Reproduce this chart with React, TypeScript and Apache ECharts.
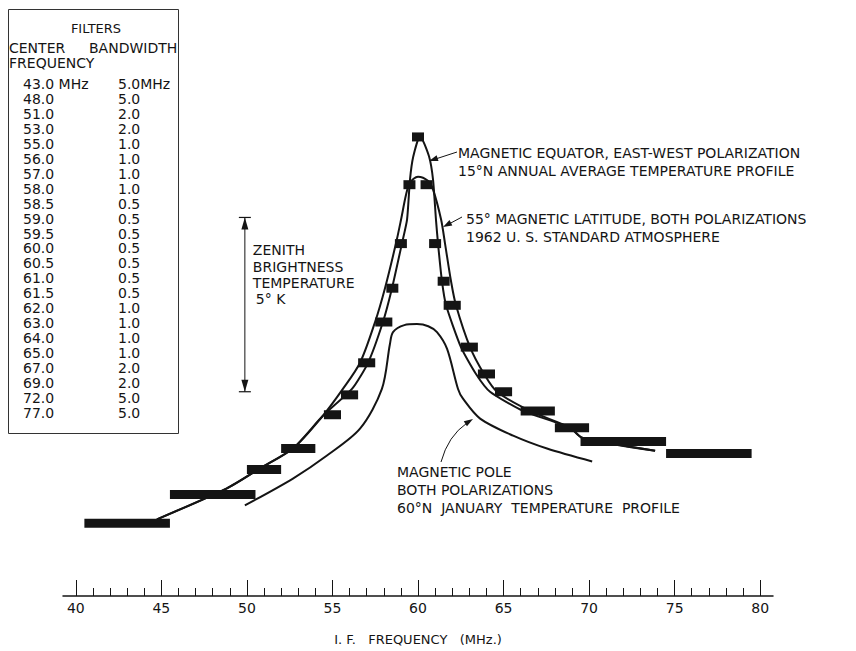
import React, { useEffect, useRef } from "react";
import * as echarts from "echarts";

// Filters (center frequency MHz, bandwidth MHz) and measured brightness (relative K)
const filterCenters = [43.0, 48.0, 51.0, 53.0, 55.0, 56.0, 57.0, 58.0, 58.5, 59.0, 59.5, 60.0, 60.5, 61.0, 61.5, 62.0, 63.0, 64.0, 65.0, 67.0, 69.0, 72.0, 77.0];
const filterBandwidths = [5, 5, 2, 2, 1, 1, 1, 1, 0.5, 0.5, 0.5, 0.5, 0.5, 0.5, 0.5, 1, 1, 1, 1, 2, 2, 5, 5];
const measuredTemps = [2.09, 2.91, 3.63, 4.23, 5.2, 5.77, 6.69, 7.86, 8.83, 10.11, 11.8, 13.17, 11.8, 10.11, 9.03, 8.34, 7.14, 6.37, 5.86, 5.31, 4.83, 4.43, 4.09];

// Theoretical curves
const equatorFreq = [44.74, 48.83, 50.76, 52.69, 54.44, 56.14, 57.08, 57.95, 58.48, 59.06, 59.36, 59.53, 59.72, 60.12, 60.65, 60.88, 61.05, 61.17, 61.4, 61.64, 62.51, 63.39, 64.21, 66.14, 68.89, 69.59, 73.86];
const equatorTemp = [2.2, 3.09, 3.66, 4.23, 5.17, 5.94, 6.69, 7.86, 8.83, 10.11, 10.8, 11.94, 12.6, 13.2, 12.6, 11.94, 10.8, 10.11, 9.03, 8.34, 7.14, 6.37, 5.86, 5.31, 4.83, 4.54, 4.17];

const midLatFreq = [44.74, 48.83, 50.76, 52.69, 54.44, 55.61, 56.61, 57.49, 58.07, 58.71, 59.01, 59.3, 59.53, 60.0, 60.58, 60.88, 61.35, 61.58, 61.93, 62.22, 63.04, 63.86, 64.62, 66.55, 68.89, 69.59, 73.86];
const midLatTemp = [2.2, 3.09, 3.66, 4.23, 5.17, 5.94, 6.69, 7.86, 8.83, 10.11, 10.8, 11.51, 11.86, 12.03, 11.91, 11.66, 10.8, 10.11, 9.03, 8.34, 7.14, 6.37, 5.86, 5.31, 4.83, 4.54, 4.17];

const poleFreq = [49.88, 52.69, 54.68, 56.61, 57.89, 58.36, 58.54, 59.2, 59.94, 60.6, 61.11, 61.7, 62.34, 62.63, 63.63, 65.56, 67.54, 70.18];
const poleTemp = [2.6, 3.37, 4.03, 4.8, 5.94, 7.23, 7.57, 7.77, 7.8, 7.74, 7.57, 7.09, 5.94, 5.66, 5.09, 4.6, 4.23, 3.86];

// Axis ticks
const majorTicks = [40, 45, 50, 55, 60, 65, 70, 75, 80];
const minorTicks = [41, 42, 43, 44, 46, 47, 48, 49, 51, 52, 53, 54, 56, 57, 58, 59, 61, 62, 63, 64, 66, 67, 68, 69, 71, 72, 73, 74, 76, 77, 78, 79];

// Zenith brightness temperature scale bar (5 K)
const scaleFreq = 49.88;
const scaleLowK = 5.86;
const scaleSpanK = 5;

const FONT = '"DejaVu Sans", sans-serif';
const INK = "#141414";

function arrowHead(tx: number, ty: number, dx: number, dy: number, len = 9, half = 3) {
  const l = Math.hypot(dx, dy);
  const ux = dx / l;
  const uy = dy / l;
  const bx = tx - ux * len;
  const by = ty - uy * len;
  return [
    [tx, ty],
    [bx - uy * half, by + ux * half],
    [bx + uy * half, by - ux * half],
  ];
}

function txt(text: string, x: number, y: number, size = 14, align = "left") {
  return {
    type: "text",
    x,
    y,
    z: 10,
    style: {
      text,
      fontSize: size,
      fontFamily: FONT,
      fill: INK,
      align,
      verticalAlign: "middle",
    },
  };
}

export default function App() {
  const ref = useRef<HTMLDivElement>(null);

  useEffect(() => {
    if (!ref.current) return;
    const chart = echarts.init(ref.current, undefined, { renderer: "svg" });

    const lineSeries = (name: string, fx: number[], ty: number[], smooth: number) => ({
      name,
      type: "line",
      data: fx.map((f, i) => [f, ty[i]]),
      showSymbol: false,
      smooth,
      lineStyle: { color: INK, width: 2 },
      z: 2,
      silent: true,
    });

    const option: any = {
      animation: false,
      backgroundColor: "#ffffff",
      grid: { left: 63, right: 83, top: 108, bottom: 53, containLabel: false },
      xAxis: [
        {
          type: "value",
          min: 39.25,
          max: 80.75,
          position: "bottom",
          axisLine: { show: true, lineStyle: { color: INK, width: 1.5 } },
          axisTick: { show: true, inside: true, length: 16, customValues: majorTicks, lineStyle: { color: INK, width: 1 } },
          axisLabel: { show: true, customValues: majorTicks, color: INK, fontSize: 14, fontFamily: FONT, margin: 5 },
          splitLine: { show: false },
          name: "I. F.   FREQUENCY   (MHz.)",
          nameLocation: "middle",
          nameGap: 37,
          nameTextStyle: { color: INK, fontSize: 13, fontFamily: FONT },
        },
        {
          type: "value",
          min: 39.25,
          max: 80.75,
          position: "bottom",
          axisLine: { show: false },
          axisTick: { show: true, inside: true, length: 8, customValues: minorTicks, lineStyle: { color: INK, width: 1 } },
          axisLabel: { show: false },
          splitLine: { show: false },
        },
      ],
      yAxis: { type: "value", min: 0, max: 14, show: false },
      series: [
        lineSeries("Magnetic equator", equatorFreq, equatorTemp, 0.2),
        lineSeries("55° magnetic latitude", midLatFreq, midLatTemp, 0.3),
        lineSeries("Magnetic pole", poleFreq, poleTemp, 0.3),
        {
          name: "Filters",
          type: "custom",
          z: 5,
          silent: true,
          data: filterCenters.map((c, i) => [c, filterBandwidths[i], measuredTemps[i]]),
          encode: { x: 0, y: 2 },
          renderItem: (_params: any, api: any) => {
            const c = api.value(0);
            const bw = api.value(1);
            const t = api.value(2);
            const p0 = api.coord([c - bw / 2, t]);
            const p1 = api.coord([c + bw / 2, t]);
            let x = p0[0];
            let w = p1[0] - p0[0];
            if (w < 12) {
              x = (p0[0] + p1[0]) / 2 - 6;
              w = 12;
            }
            return {
              type: "rect",
              shape: { x, y: p0[1] - 4.5, width: w, height: 9 },
              style: { fill: INK },
            };
          },
        },
      ],
    };

    chart.setOption(option);

    const top = chart.convertToPixel({ gridIndex: 0 }, [scaleFreq, scaleLowK + scaleSpanK]) as number[];
    const bot = chart.convertToPixel({ gridIndex: 0 }, [scaleFreq, scaleLowK]) as number[];
    const sx = top[0];

    const tableRows = filterCenters.map((c, i) => [
      txt(c.toFixed(1) + (i === 0 ? " MHz" : ""), 23, 84 + i * 14.95),
      txt(filterBandwidths[i].toFixed(1) + (i === 0 ? "MHz" : ""), 118, 84 + i * 14.95),
    ]).flat();

    const graphic: any[] = [
      // Filters table
      { type: "rect", shape: { x: 8.5, y: 9.5, width: 170, height: 424 }, style: { fill: "none", stroke: "#333", lineWidth: 1 }, z: 10 },
      txt("FILTERS", 96, 28, 13, "center"),
      txt("CENTER", 9, 48),
      txt("BANDWIDTH", 89, 48),
      txt("FREQUENCY", 9, 63),
      ...tableRows,
      // Zenith scale bar
      { type: "line", shape: { x1: sx, y1: top[1], x2: sx, y2: bot[1] }, style: { stroke: INK, lineWidth: 1 }, z: 10 },
      { type: "line", shape: { x1: sx - 6, y1: top[1], x2: sx + 6, y2: top[1] }, style: { stroke: INK, lineWidth: 1.2 }, z: 10 },
      { type: "line", shape: { x1: sx - 6, y1: bot[1], x2: sx + 6, y2: bot[1] }, style: { stroke: INK, lineWidth: 1.2 }, z: 10 },
      { type: "polygon", shape: { points: arrowHead(sx, top[1], 0, -1, 12, 3.5) }, style: { fill: INK }, z: 10 },
      { type: "polygon", shape: { points: arrowHead(sx, bot[1], 0, 1, 12, 3.5) }, style: { fill: INK }, z: 10 },
      txt("ZENITH", sx + 8, 250),
      txt("BRIGHTNESS", sx + 8, 267),
      txt("TEMPERATURE", sx + 8, 283),
      txt("5° K", sx + 11, 299),
      // Equator annotation
      txt("MAGNETIC EQUATOR, EAST-WEST POLARIZATION", 458, 153),
      txt("15°N ANNUAL AVERAGE TEMPERATURE PROFILE", 458, 171),
      { type: "line", shape: { x1: 457, y1: 152, x2: 434, y2: 159.5 }, style: { stroke: INK, lineWidth: 1 }, z: 10 },
      { type: "polygon", shape: { points: arrowHead(429, 161, -23, 7.5, 9, 3) }, style: { fill: INK }, z: 10 },
      // 55 deg annotation
      txt("55° MAGNETIC LATITUDE, BOTH POLARIZATIONS", 466, 219),
      txt("1962 U. S. STANDARD ATMOSPHERE", 466, 237),
      { type: "line", shape: { x1: 462, y1: 217, x2: 448, y2: 224.5 }, style: { stroke: INK, lineWidth: 1 }, z: 10 },
      { type: "polygon", shape: { points: arrowHead(443, 227, -14, 7.5, 9, 3) }, style: { fill: INK }, z: 10 },
      // Pole annotation
      txt("MAGNETIC POLE", 397, 472),
      txt("BOTH POLARIZATIONS", 397, 490),
      txt("60°N  JANUARY  TEMPERATURE  PROFILE", 397, 508),
      { type: "bezierCurve", shape: { x1: 441, y1: 462, x2: 467, y2: 423, cpx1: 448, cpy1: 436 }, style: { stroke: INK, lineWidth: 1, fill: "none" }, z: 10 },
      { type: "polygon", shape: { points: arrowHead(473, 419, 24, -15, 9, 3) }, style: { fill: INK }, z: 10 },
    ];

    chart.setOption({ graphic });

    return () => {
      chart.dispose();
    };
  }, []);

  return (
    <div
      ref={ref}
      style={{ position: "absolute", left: 0, top: 0, width: 856, height: 651, background: "#fff" }}
    />
  );
}
